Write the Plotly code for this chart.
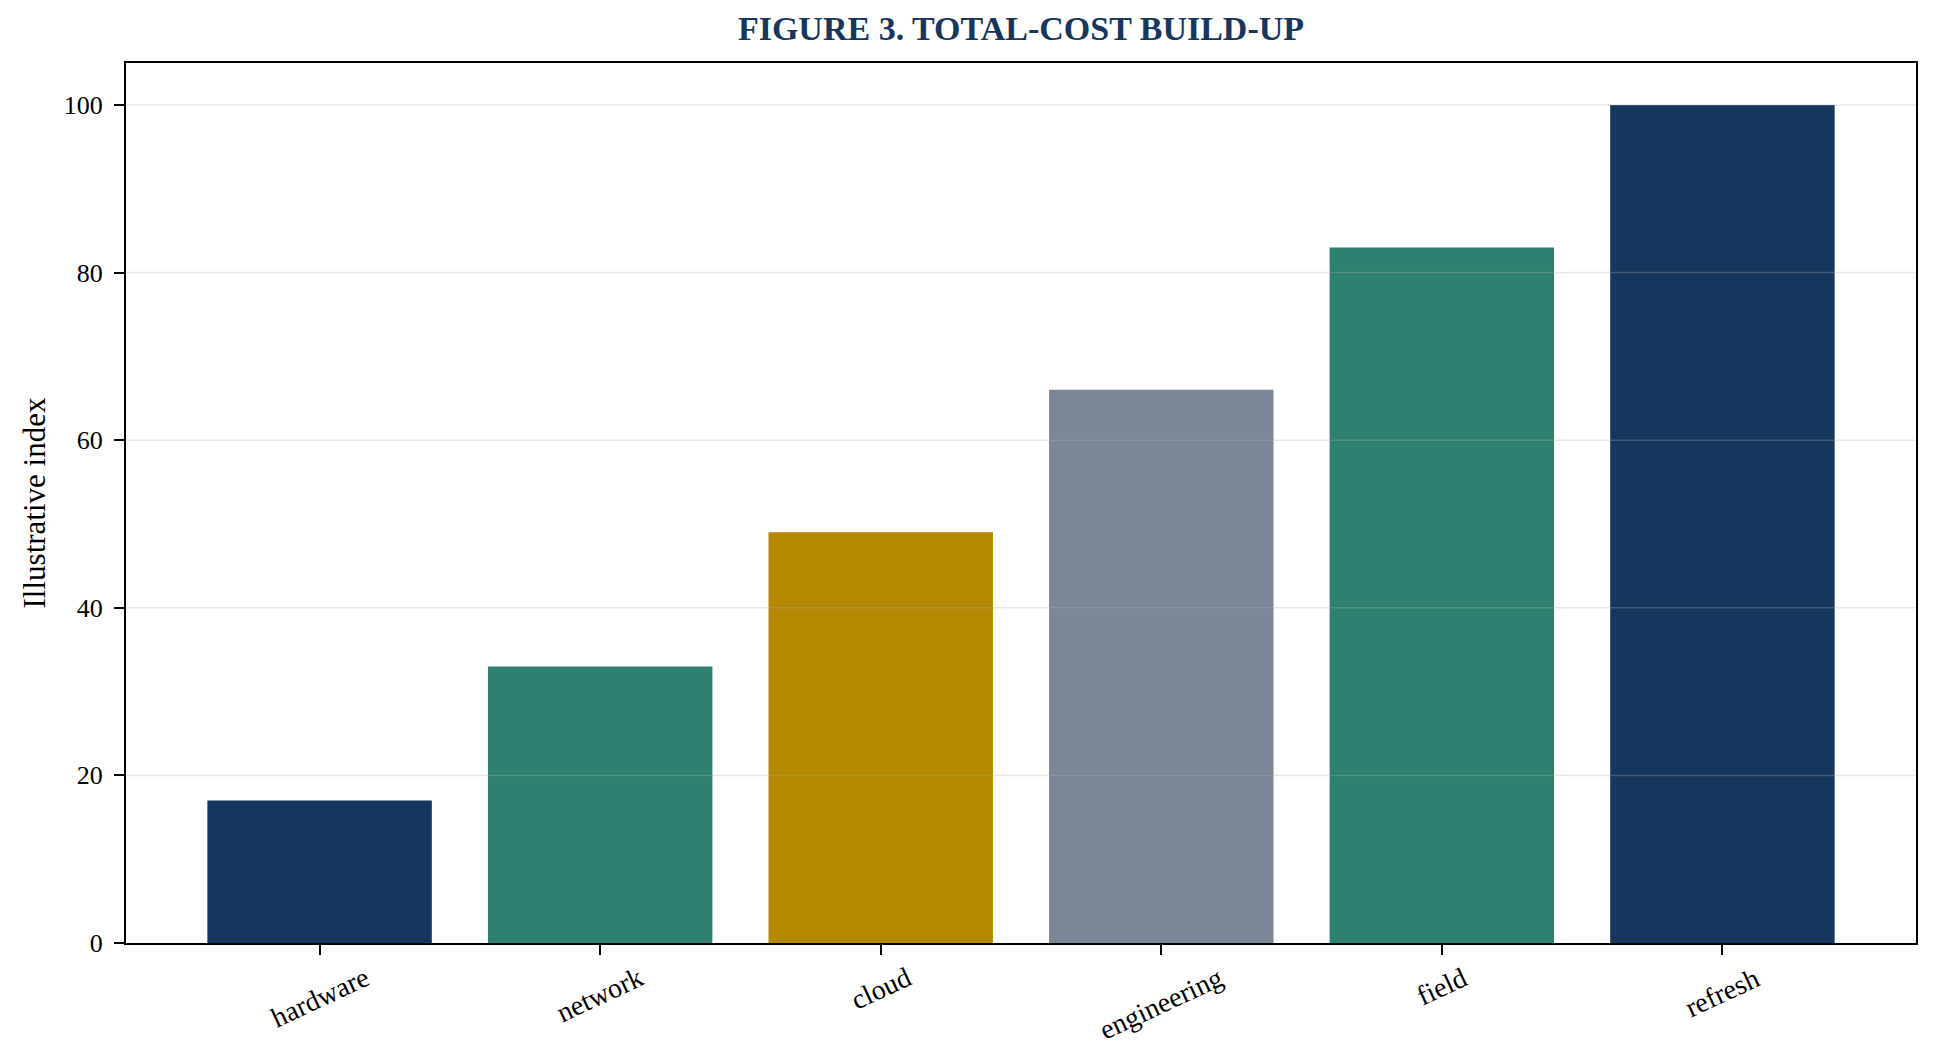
import plotly.graph_objects as go

# values
categories = ["hardware", "network", "cloud", "engineering", "field", "refresh"]
values = [17, 33, 49, 66, 83, 100]
y_ticks = [0, 20, 40, 60, 80, 100]

NAVY = "#17365D"
TEAL = "#2E8070"
GOLD = "#B48900"
SLATE = "#7B8796"
bar_colors = [NAVY, TEAL, GOLD, SLATE, TEAL, NAVY]

FONT = "Liberation Serif, Times New Roman, serif"

fig = go.Figure()
fig.add_bar(
    x=categories,
    y=values,
    width=0.8,
    marker=dict(color=bar_colors, line=dict(width=0)),
    showlegend=False,
)

# gridlines sit on top of the bars in the original
for v in y_ticks[1:]:
    fig.add_shape(
        type="line", xref="paper", x0=0, x1=1, yref="y", y0=v, y1=v,
        line=dict(color="rgba(176,176,176,0.3)", width=1.5),
        layer="above",
    )

# rotated category labels, centred under each tick
for c in categories:
    fig.add_annotation(
        x=c, xref="x", y=-0.018, yref="paper",
        text=c, textangle=-25, showarrow=False,
        xanchor="center", yanchor="top",
        font=dict(family=FONT, size=28, color="black"),
    )

# page body adds an 8px margin, so the figure is a bit smaller than the window
fig.update_layout(
    width=1930,
    height=1052,
    margin=dict(l=118, r=22, t=55, b=117),
    paper_bgcolor="white",
    plot_bgcolor="white",
    font=dict(family=FONT, color="black"),
    title=dict(
        text="<b>FIGURE 3. TOTAL-COST BUILD-UP</b>",
        x=0.5, xref="paper", xanchor="center",
        y=1 - 20 / 1052, yref="container", yanchor="middle",
        font=dict(family=FONT, size=34, color=NAVY),
    ),
    bargap=0.2,
)
fig.update_xaxes(
    type="category",
    range=[-0.69, 5.69],
    showticklabels=False,
    ticks="outside", ticklen=10, tickwidth=2, tickcolor="black",
    showline=True, linecolor="black", linewidth=2, mirror=True,
    showgrid=False, zeroline=False,
)
fig.update_yaxes(
    range=[0, 105],
    tickvals=y_ticks,
    ticks="outside", ticklen=10, tickwidth=2, tickcolor="black",
    tickfont=dict(family=FONT, size=26, color="black"),
    ticklabelstandoff=6,
    showline=True, linecolor="black", linewidth=2, mirror=True,
    showgrid=False, zeroline=False,
    title=dict(text="Illustrative index", standoff=9,
               font=dict(family=FONT, size=31, color="black")),
)

fig.write_html("out.html")
